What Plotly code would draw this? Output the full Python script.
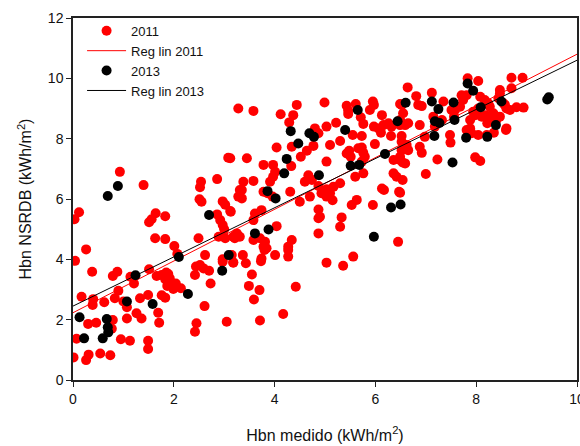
import plotly.graph_objects as go

# ---- data (x: Hbn medido, y: Hbn NSRDB) ----
x_2011 = [0.03,0.12,0.26,0.04,0.93,1.40,1.51,1.56,1.64,1.83,1.63,1.83,2.01,2.07,2.49,2.62,3.08,2.54,2.52,2.51,
          2.55,2.86,2.97,3.02,3.13,2.86,2.92,2.97,3.00,2.89,3.02,3.18,3.21,2.97,3.28,3.31,
          0.38,0.17,0.40,0.39,0.07,0.01,0.31,0.26,0.30,0.46,0.54,0.74,0.79,0.77,0.62,0.83,0.90,0.79,0.88,0.95,
          1.13,1.00,1.07,1.07,1.14,1.21,1.26,1.36,1.33,1.49,1.49,1.49,1.69,1.71,1.51,1.66,1.76,1.85,1.89,1.92,
          1.83,1.76,1.83,1.87,2.04,1.99,2.14,2.44,2.52,2.59,2.70,2.42,2.73,2.61,2.45,2.42,3.05,2.97,3.18,
          4.04,4.34,4.52,4.64,4.77,5.10,5.30,5.48,5.43,5.51,5.66,5.73,5.76,5.79,5.73,5.99,6.31,6.36,6.46,6.59,
          6.52,6.62,3.12,3.45,3.78,3.97,4.01,3.97,3.91,4.33,5.03,5.60,5.76,3.38,3.35,3.35,3.58,3.12,3.78,3.86,
          3.96,4.31,4.50,4.70,4.67,4.60,4.74,4.87,5.03,4.93,5.03,5.10,5.17,5.30,5.15,5.53,5.63,5.95,6.13,6.17,
          6.36,6.42,6.47,6.54,3.74,3.61,3.58,4.87,4.90,4.87,5.33,5.30,4.04,4.87,3.25,3.31,3.58,3.71,3.81,3.78,
          3.84,4.34,4.27,6.45,3.15,3.37,3.74,4.01,4.27,5.56,
          3.18,3.43,3.73,3.80,4.27,3.55,3.49,3.70,3.59,4.42,4.17,3.71,5.03,5.36,
          3.28,3.58,4.12,4.44,4.37,4.29,4.80,4.87,5.03,5.22,4.99,5.55,5.73,6.11,5.43,5.46,5.46,5.61,5.71,5.76,
          5.95,5.97,5.89,6.13,5.97,6.06,6.16,6.26,6.32,6.49,6.55,6.52,6.49,6.64,6.52,
          7.12,6.81,6.85,6.92,7.35,7.58,7.68,7.74,7.81,7.71,7.83,8.04,8.08,8.17,8.24,8.27,8.47,8.44,8.54,8.60,
          8.67,8.57,8.70,8.92,8.80,8.94,8.70,8.47,6.49,6.59,6.65,7.15,7.32,7.18,6.88,6.98,7.48,7.51,7.56,7.88,
          7.88,7.91,7.81,7.98,8.11,8.04,7.94,8.19,8.24,8.22,8.26,8.04,8.21,8.34,8.40,8.47,8.60,
          6.52,6.65,6.49,6.88,6.92,7.23,7.00,7.49,7.84,7.98,8.08,8.35,8.59,6.54,6.49]
y_2011 = [5.33,5.56,4.33,3.95,6.90,6.46,5.23,5.33,5.53,5.43,4.70,4.67,4.44,4.18,4.70,4.14,7.37,6.57,6.39,5.99,
          5.91,6.66,5.92,5.81,5.58,5.49,5.30,5.14,5.00,4.75,4.70,4.75,4.70,4.00,6.08,6.30,
          3.59,2.76,2.68,2.49,1.37,0.75,0.84,0.66,1.86,1.90,0.88,0.82,1.99,1.70,2.58,2.71,2.96,3.45,3.59,1.35,
          1.30,2.60,2.41,2.04,3.42,3.20,2.21,2.04,2.71,2.82,1.30,1.03,2.23,1.90,3.67,3.45,3.48,3.56,3.51,3.37,
          3.34,2.81,2.73,3.12,3.20,3.02,3.04,3.76,3.81,3.70,3.62,3.48,3.20,2.45,1.88,1.60,1.93,3.92,3.90,
          7.71,7.73,7.40,7.60,7.76,7.79,7.92,7.60,7.51,7.40,7.68,7.71,7.53,7.40,7.24,7.82,8.09,7.29,7.31,7.18,
          7.62,7.79,7.35,7.35,7.13,7.13,6.90,6.74,6.57,7.09,7.24,6.74,6.85,6.57,6.30,6.02,6.60,5.60,6.24,6.19,
          6.08,6.24,5.91,6.08,6.79,6.57,6.63,6.43,6.32,6.19,6.08,6.19,6.41,6.52,5.96,5.80,5.97,5.80,6.35,6.30,
          6.85,6.74,6.24,7.21,5.63,5.52,5.30,5.65,5.41,5.36,5.39,5.08,5.10,4.86,4.86,4.75,4.64,4.70,4.58,4.42,
          4.37,4.64,4.42,4.58,4.14,4.14,4.03,4.14,4.09,4.09,
          3.89,3.87,3.94,4.31,4.31,3.50,3.12,2.98,2.67,3.09,2.19,1.97,3.89,3.79,
          9.00,8.92,8.81,9.12,8.78,8.54,8.34,8.18,8.40,8.53,9.20,8.12,8.09,8.20,9.09,8.93,8.82,9.15,8.71,8.49,
          9.23,9.12,8.95,8.78,8.40,8.34,8.45,8.51,8.40,8.45,8.84,9.12,9.15,9.70,8.09,
          9.52,9.41,9.12,9.08,9.23,8.95,9.06,9.28,9.44,9.44,10.00,9.91,9.39,9.28,9.17,9.06,9.50,9.34,9.17,9.00,
          8.95,9.12,10.02,10.02,9.04,9.03,9.67,9.61,8.62,8.45,8.51,8.73,8.62,8.40,8.45,8.06,8.12,8.95,8.73,8.62,
          8.34,8.18,8.29,8.78,8.73,9.00,8.89,8.78,8.73,8.51,8.62,8.12,8.12,8.84,8.62,8.73,8.34,
          7.90,7.62,7.40,7.73,7.53,7.31,6.83,7.87,8.23,7.38,7.26,8.20,8.29,6.63,6.21]

x_2013 = [0.13,0.22,0.59,0.67,0.69,0.70,0.69,0.89,1.07,1.24,1.58,2.10,2.28,2.70,2.96,3.09,3.61,3.88,3.86,4.02,
          4.19,4.24,4.32,4.47,4.69,4.78,4.88,5.40,5.51,5.68,5.65,5.97,6.19,6.31,6.50,6.44,6.60,7.12,7.25,7.55,
          7.83,7.94,8.09,8.50,7.18,7.27,7.17,7.57,7.80,8.22,8.39,7.53,9.41,9.44]
y_2013 = [2.08,1.38,1.38,2.02,1.75,1.58,6.10,6.43,2.60,3.47,2.52,4.08,2.85,5.47,3.62,4.14,4.86,4.99,6.26,6.02,
          6.85,7.33,8.25,7.84,8.18,8.06,6.79,8.29,7.10,7.13,8.95,4.75,7.49,5.72,5.82,8.58,9.19,9.23,8.98,9.20,
          9.83,9.59,9.04,9.23,8.58,8.52,8.09,8.62,8.03,8.06,8.45,7.21,9.30,9.37]

# regression lines: [intercept, slope]
reg_2011 = [2.23, 0.857]
reg_2013 = [2.45, 0.815]
reg_x = [0, 10]

font_family = "Liberation Sans, Arial, sans-serif"

fig = go.Figure()
fig.add_trace(go.Scatter(x=x_2011, y=y_2011, mode="markers", name="2011",
                         marker=dict(color="#ff0000", size=10, line=dict(width=0))))
fig.add_trace(go.Scatter(x=reg_x, y=[reg_2011[0] + reg_2011[1] * v for v in reg_x], mode="lines",
                         name="Reg lin 2011", line=dict(color="#ff0000", width=1)))
fig.add_trace(go.Scatter(x=x_2013, y=y_2013, mode="markers", name="2013",
                         marker=dict(color="#000000", size=10, line=dict(width=0))))
fig.add_trace(go.Scatter(x=reg_x, y=[reg_2013[0] + reg_2013[1] * v for v in reg_x], mode="lines",
                         name="Reg lin 2013", line=dict(color="#000000", width=1)))

axis_common = dict(showgrid=False, zeroline=False, showline=True, linecolor="#222222", linewidth=1.5,
                   mirror=True, ticks="outside", ticklen=5, tickwidth=1, tickcolor="#222222",
                   ticklabeloverflow="allow",
                   tickfont=dict(family=font_family, size=14, color="#111111"))

fig.update_layout(
    width=580, height=446,
    margin=dict(l=73, r=3, t=18, b=66, autoexpand=False),
    paper_bgcolor="white", plot_bgcolor="white",
    font=dict(family=font_family, color="#111111"),
    showlegend=True,
    legend=dict(x=0.018, y=1.006, xanchor="left", yanchor="top", bgcolor="rgba(0,0,0,0)",
                itemwidth=39,
                font=dict(family=font_family, size=13), tracegroupgap=0),
    xaxis=dict(range=[0, 10], dtick=2, tick0=0,
               title=dict(text="Hbn medido (kWh/m<sup>2</sup>)", font=dict(family=font_family, size=16), standoff=24),
               **axis_common),
    yaxis=dict(range=[0, 12], dtick=2, tick0=0,
               title=dict(text="Hbn NSRDB (kWh/m<sup>2</sup>)", font=dict(family=font_family, size=16), standoff=12),
               **axis_common),
)

fig.write_html("out.html", config={"displayModeBar": False},
               post_script="document.body.style.margin='0';document.body.style.overflow='hidden';")
